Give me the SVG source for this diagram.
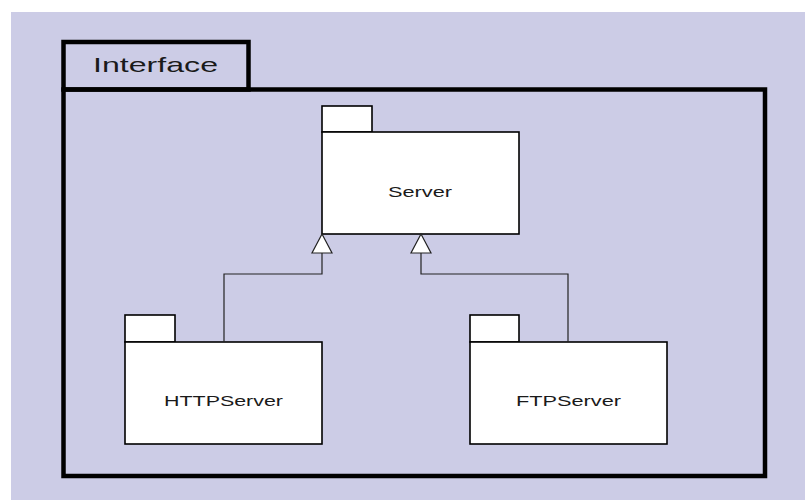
<svg xmlns="http://www.w3.org/2000/svg" width="805" height="500" viewBox="0 0 805 500">
<defs>
<style>
.frame{fill:none;stroke:#000;stroke-width:4.5}
.pkg{fill:#fff;stroke:#000;stroke-width:1.6}
.lbl{font-family:"Liberation Sans",Arial,sans-serif;font-size:15px;fill:#1a1a1a;text-anchor:middle}
.conn{fill:none;stroke:#222;stroke-width:1.2}
.head{fill:#fff;stroke:#222;stroke-width:1.2}
</style>
</defs>
<rect x="0" y="0" width="805" height="500" fill="#fff"/>
<rect x="11" y="12" width="794" height="488" fill="#cccce6"/>
<g id="interface">
<rect class="frame" x="63.5" y="42" width="185" height="47.5"/>
<rect class="frame" x="63.5" y="89.5" width="701.5" height="386.5"/>
<text x="155.5" y="72" font-family="Liberation Sans, Arial, sans-serif" font-size="21" fill="#1a1a1a" text-anchor="middle" textLength="125" lengthAdjust="spacingAndGlyphs">Interface</text>
</g>
<g id="server">
<rect class="pkg" x="322" y="106" width="50" height="26"/>
<rect class="pkg" x="322" y="132" width="197" height="102"/>
<text class="lbl" x="420" y="197" textLength="64" lengthAdjust="spacingAndGlyphs">Server</text>
</g>
<g id="httpserver">
<rect class="pkg" x="125" y="315" width="50" height="27"/>
<rect class="pkg" x="125" y="342" width="197" height="102"/>
<text class="lbl" x="223.5" y="406" textLength="119" lengthAdjust="spacingAndGlyphs">HTTPServer</text>
</g>
<g id="ftpserver">
<rect class="pkg" x="470" y="315" width="49" height="27"/>
<rect class="pkg" x="470" y="342" width="197" height="102"/>
<text class="lbl" x="568.5" y="406" textLength="105" lengthAdjust="spacingAndGlyphs">FTPServer</text>
</g>
<g id="connectors">
<polyline class="conn" points="224,342 224,274 322,274 322,253"/>
<polygon class="head" points="322,234 312,253 332,253"/>
<polyline class="conn" points="568,342 568,274 421,274 421,253"/>
<polygon class="head" points="421,234 411,253 431,253"/>
</g>
</svg>
